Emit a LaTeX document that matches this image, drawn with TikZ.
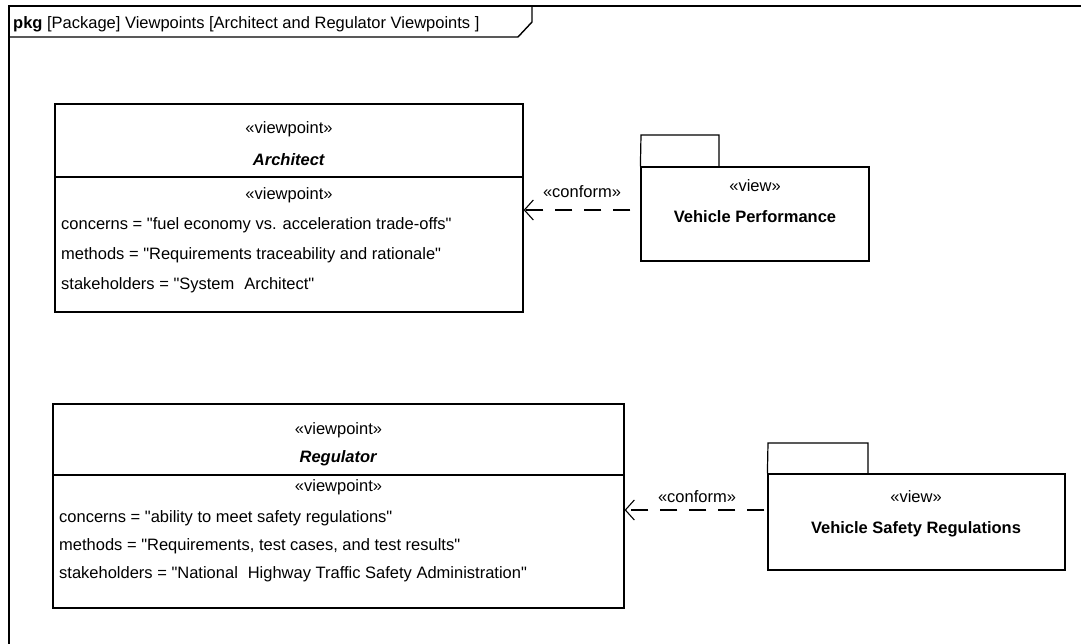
\documentclass[tikz,border=0pt]{standalone}
\usepackage{fontspec}
\setmainfont{Liberation Sans}[Ligatures=TeXOff]
\usetikzlibrary{arrows.meta}
\tikzset{
  blk/.style={draw, line width=1.2pt, rectangle, inner sep=0pt},
  txt/.style={font=\fontsize{16.5}{19}\selectfont, inner sep=0pt, anchor=base},
  ltxt/.style={txt, anchor=base west},
  conformarrow/.style={line width=1.1pt, dash pattern=on 17pt off 12pt, -{Straight Barb[length=9pt,width=20pt,line width=1.1pt]}},
  framebox/.style={line width=2pt},
}
\begin{document}
\begin{tikzpicture}[x=1pt,y=-1pt]
\useasboundingbox (0,0) rectangle (1081,644);
\clip (0,0) rectangle (1081,644);
\fill[white] (0,0) rectangle (1081,644);

% outer frame
\draw[framebox] (9,700) -- (9,6) -- (1120,6);
\draw[line width=1.4pt] (9,37) -- (518,37) -- (532,22) -- (532,6);
\node[ltxt] (title) at (13,29) {\textbf{pkg} [Package] Viewpoints [Architect and Regulator Viewpoints ]};

% Architect viewpoint
\node[blk, minimum width=468pt, minimum height=208pt] (arch) at (289,208) {};
\draw[line width=1.2pt] (arch.west |- 0,177) -- (arch.east |- 0,177);
\node[txt] (a1) at (289,134) {«viewpoint»};
\node[txt] (a2) at (289,166) {\textbf{\textit{Architect}}};
\node[txt] (a3) at (289,200) {«viewpoint»};
\node[ltxt] (a4) at (61,230) {concerns = "fuel economy vs. acceleration trade-offs"};
\node[ltxt] (a5) at (61,260) {methods = "Requirements traceability and rationale"};
\node[ltxt] (a6) at (61,290) {stakeholders = "System\hspace{0.6em}Architect"};

% Vehicle Performance package
\node[blk, minimum width=228pt, minimum height=94pt] (vp) at (755,214) {};
\draw[line width=1.2pt] (vp.north west) -- (641,135) -- (719,135) -- (719,167);
\node[txt] (vp1) at (755,192) {«view»};
\node[txt] (vp2) at (755,223) {\textbf{Vehicle Performance}};

% Regulator viewpoint
\node[blk, minimum width=571pt, minimum height=204pt] (reg) at (338.5,506) {};
\draw[line width=1.2pt] (reg.west |- 0,475) -- (reg.east |- 0,475);
\node[txt] (r1) at (338.5,434) {«viewpoint»};
\node[txt] (r2) at (338.5,462) {\textbf{\textit{Regulator}}};
\node[txt] (r3) at (338.5,491) {«viewpoint»};
\node[ltxt] (r4) at (59,522) {concerns = "ability to meet safety regulations"};
\node[ltxt] (r5) at (59,550) {methods = "Requirements, test cases, and test results"};
\node[ltxt] (r6) at (59,578) {stakeholders = "National\hspace{0.6em}Highway Traffic Safety Administration"};

% Vehicle Safety Regulations package
\node[blk, minimum width=297pt, minimum height=96pt] (vsr) at (916.5,522) {};
\draw[line width=1.2pt] (vsr.north west) -- (768,443) -- (868,443) -- (868,474);
\node[txt] (s1) at (916,502) {«view»};
\node[txt] (s2) at (916,533) {\textbf{Vehicle Safety Regulations}};

% conform dependencies
\draw[conformarrow, shorten <=10pt] (vp.west |- 0,210) -- (arch.east |- 0,210);
\node[txt] (c1l) at (582,198) {«conform»};
\draw[conformarrow, shorten <=3pt] (vsr.west |- 0,510) -- (reg.east |- 0,510);
\node[txt] (c2l) at (697,502) {«conform»};
\end{tikzpicture}
\end{document}
